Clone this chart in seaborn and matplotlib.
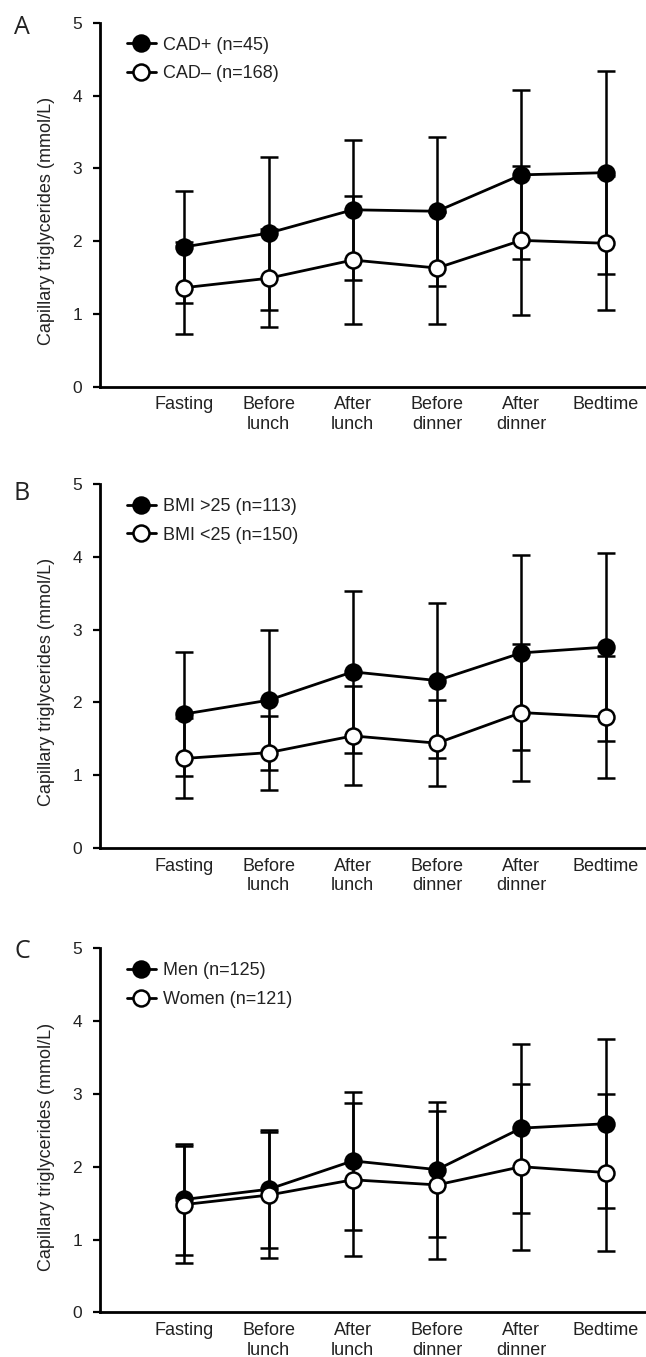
import matplotlib
matplotlib.use('Agg')
import matplotlib.pyplot as plt
from matplotlib.lines import Line2D
import pandas as pd
import seaborn as sns

times = ['Fasting', 'Before\nlunch', 'After\nlunch', 'Before\ndinner', 'After\ndinner', 'Bedtime']

# panel A: CAD
cad_pos_mean = [1.92, 2.11, 2.43, 2.41, 2.91, 2.94]
cad_pos_sd = [0.77, 1.05, 0.96, 1.02, 1.16, 1.39]
cad_neg_mean = [1.36, 1.49, 1.74, 1.63, 2.01, 1.97]
cad_neg_sd = [0.63, 0.67, 0.88, 0.77, 1.02, 0.92]

# panel B: BMI
bmi_hi_mean = [1.84, 2.03, 2.42, 2.30, 2.68, 2.76]
bmi_hi_sd = [0.85, 0.96, 1.11, 1.07, 1.34, 1.29]
bmi_lo_mean = [1.23, 1.31, 1.54, 1.44, 1.86, 1.80]
bmi_lo_sd = [0.55, 0.51, 0.68, 0.59, 0.94, 0.84]

# panel C: sex
men_mean = [1.55, 1.69, 2.08, 1.96, 2.53, 2.59]
men_sd = [0.76, 0.81, 0.95, 0.93, 1.16, 1.16]
women_mean = [1.48, 1.61, 1.82, 1.75, 2.00, 1.92]
women_sd = [0.80, 0.86, 1.05, 1.02, 1.14, 1.08]

panel_letters = ['A', 'B', 'C']
series_labels = [
    ['CAD+ (n=45)', 'CAD\u2013 (n=168)'],
    ['BMI >25 (n=113)', 'BMI <25 (n=150)'],
    ['Men (n=125)', 'Women (n=121)'],
]
series_data = [
    [(cad_pos_mean, cad_pos_sd), (cad_neg_mean, cad_neg_sd)],
    [(bmi_hi_mean, bmi_hi_sd), (bmi_lo_mean, bmi_lo_sd)],
    [(men_mean, men_sd), (women_mean, women_sd)],
]

sns.set_style('ticks')
plt.rcParams['font.family'] = ['Liberation Sans', 'DejaVu Sans']

W, H = 646, 1357
fig = plt.figure(figsize=(W / 100, H / 100), dpi=100)

ax_tops = [22.7, 484, 948.3]
letter_y = [28, 493, 952]
ax_h = 364
ax_left = 100

MS = 11.5
LW = 2.0
EW = 1.8

for i, top in enumerate(ax_tops):
    ax = fig.add_axes([ax_left / W, 1 - (top + ax_h) / H, (W - ax_left) / W, ax_h / H])
    faces = ['black', 'white']
    for j, (m, sd) in enumerate(series_data[i]):
        ax.errorbar(times, m, yerr=sd, fmt='none', ecolor='black', elinewidth=EW,
                    capsize=6.5, capthick=EW, zorder=2)
    for j, (m, sd) in enumerate(series_data[i]):
        df = pd.DataFrame({'time': times, 'tg': m})
        sns.lineplot(data=df, x='time', y='tg', ax=ax, sort=False, color='black',
                     lw=LW, marker='o', markersize=MS, markerfacecolor=faces[j],
                     markeredgecolor='black', markeredgewidth=EW, zorder=3 + j)

    ax.set_xlim(-1, 5.48)
    ax.set_ylim(0, 5)
    ax.set_yticks([0, 1, 2, 3, 4, 5])
    ax.set_xlabel('')
    ax.set_ylabel('Capillary triglycerides (mmol/L)', fontsize=13, color='#222222')
    ax.yaxis.set_label_coords(-0.082, 0.455)
    ax.tick_params(axis='x', length=0, pad=7, labelsize=13, labelcolor='#222222')
    ax.tick_params(axis='y', length=5, width=1.6, pad=8, labelsize=12.5,
                   color='black', labelcolor='#222222')
    sns.despine(ax=ax)
    for side in ['left', 'bottom']:
        ax.spines[side].set_linewidth(2.0)
        ax.spines[side].set_color('black')
    ax.set_facecolor('none')

    handles = [
        Line2D([], [], color='black', lw=LW, marker='o', markersize=MS,
               markerfacecolor=f, markeredgecolor='black', markeredgewidth=EW, label=lab)
        for f, lab in zip(faces, series_labels[i])
    ]
    ax.legend(handles=handles, loc='upper left', bbox_to_anchor=(0.049, 0.962),
              frameon=False, fontsize=13, borderpad=0, borderaxespad=0,
              handlelength=1.6, handletextpad=0.4, labelspacing=0.65,
              labelcolor='#222222')

    fig.text(22 / W, 1 - letter_y[i] / H, panel_letters[i], fontsize=18,
             ha='center', va='center', color='#222222',
             family=['Open Sans', 'DejaVu Sans'])

fig.savefig('out.png', dpi=100)
